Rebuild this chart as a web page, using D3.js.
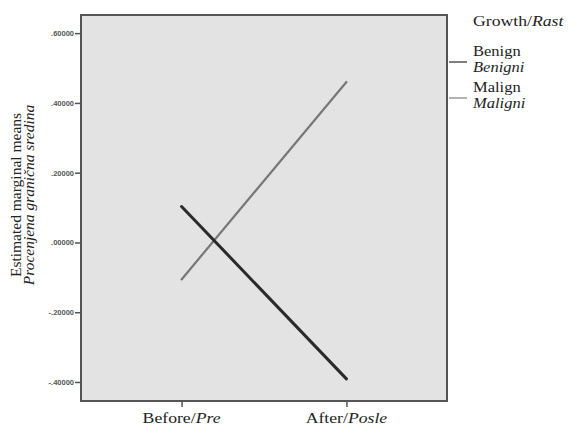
<!DOCTYPE html>
<html><head><meta charset="utf-8">
<script src="https://cdn.jsdelivr.net/npm/d3@7"></script>
<style>body{margin:0;background:#fff;} svg{display:block;}</style>
</head><body>
<svg id="chart" width="569" height="428"></svg>
<script>
const categories = ["Before", "After"];
const categoryItalic = ["Pre", "Posle"];
const seriesNames = ["Benign", "Malign"];
const seriesItalic = ["Benigni", "Maligni"];
const benignValues = [0.103, -0.391];
const malignValues = [-0.106, 0.460];
const tickValues = [0.6, 0.4, 0.2, 0.0, -0.2, -0.4];
const tickLabels = [".60000", ".40000", ".20000", ".00000", "-.20000", "-.40000"];

const svg = d3.select("#chart");
const SERIF = "Liberation Serif, Times New Roman, serif";
const L = 81, R = 447, T = 15, B = 401;
const y = d3.scaleLinear().domain([-0.4545, 0.652]).range([B, T]);
const x = d3.scalePoint().domain(categories).range([L, R]).padding(0.61);

svg.append("rect").attr("x", L).attr("y", T).attr("width", R - L).attr("height", B - T)
  .attr("fill", "#e3e3e3").attr("stroke", "#555").attr("stroke-width", 2);

// y axis
const yAxis = d3.axisLeft(y).tickValues(tickValues).tickSize(6)
  .tickFormat((d, i) => tickLabels[i]);
const gy = svg.append("g").attr("transform", `translate(${L},0)`).call(yAxis);
gy.select(".domain").remove();
gy.selectAll(".tick line").attr("stroke", "#555").attr("stroke-width", 1.5);
gy.selectAll(".tick text").attr("font-family", "Liberation Sans, Arial")
  .attr("font-size", 7.5).attr("font-weight", "bold").attr("fill", "#555").attr("x", -7);

// x axis
const xAxis = d3.axisBottom(x).tickSize(5).tickFormat("");
const gx = svg.append("g").attr("transform", `translate(0,${B + 1})`).call(xAxis);
gx.select(".domain").remove();
gx.selectAll(".tick line").attr("stroke", "#555").attr("stroke-width", 1.5);

function stretchedText(parent, tx, ty, parts, size, anchor) {
  const g = parent.append("g").attr("transform", `translate(${tx},${ty}) scale(1.18,1)`);
  const t = g.append("text").attr("x", 0).attr("y", 0).attr("text-anchor", anchor || "start")
    .attr("font-family", SERIF).attr("font-size", size).attr("fill", "#222");
  parts.forEach(p => t.append("tspan").attr("font-style", p[1] ? "italic" : "normal").text(p[0]));
  return t;
}

categories.forEach((c, i) => {
  stretchedText(svg, x(c), 423, [[c + "/", false], [categoryItalic[i], true]], 15, "middle");
});

// y title
const yt = svg.append("g").attr("transform", "translate(0,195) rotate(-90)");
yt.append("text").attr("x", 0).attr("y", 21).attr("text-anchor", "middle")
  .attr("font-family", SERIF).attr("font-size", 15.5).attr("fill", "#222")
  .text("Estimated marginal means");
yt.append("text").attr("x", 0).attr("y", 34).attr("text-anchor", "middle")
  .attr("font-family", SERIF).attr("font-size", 15.5).attr("font-style", "italic").attr("fill", "#222")
  .text("Procenjena granična sredina");

// lines
const line = d3.line().x((d, i) => x(categories[i])).y(d => y(d));
const series = [
  {vals: malignValues, color: "#777", w: 2.2},
  {vals: benignValues, color: "#2a2a2a", w: 3}
];
series.forEach(s => {
  svg.append("path").datum(s.vals).attr("d", line).attr("fill", "none")
    .attr("stroke", s.color).attr("stroke-width", s.w).attr("stroke-linecap", "round");
});

// legend
const lg = svg.append("g");
stretchedText(lg, 473, 26, [["Growth/", false], ["Rast", true]], 15);
const legY = [62, 98];
const legColors = ["#555", "#999"];
seriesNames.forEach((n, i) => {
  lg.append("line").attr("x1", 449).attr("x2", 467).attr("y1", legY[i]).attr("y2", legY[i])
    .attr("stroke", legColors[i]).attr("stroke-width", 1.5);
  stretchedText(lg, 473, legY[i] - 6, [[n, false]], 14);
  stretchedText(lg, 473, legY[i] + 10, [[seriesItalic[i], true]], 14);
});
</script>
</body></html>
